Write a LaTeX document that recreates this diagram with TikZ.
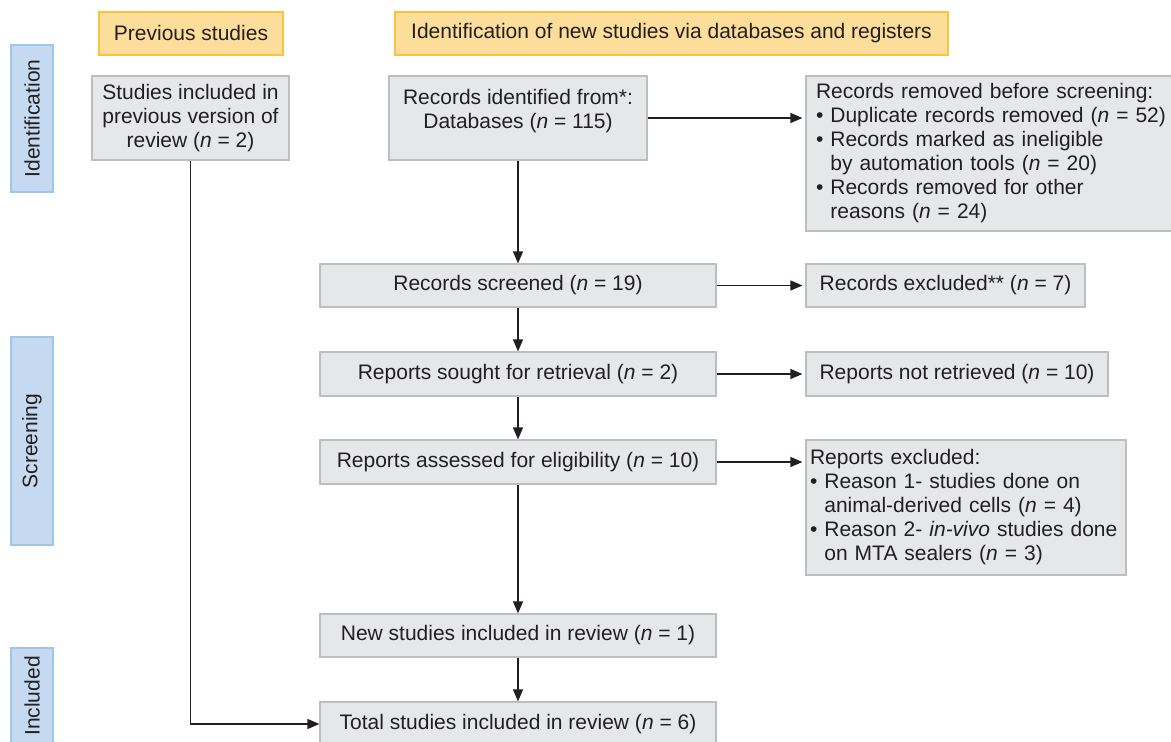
\documentclass[tikz,border=0pt]{standalone}
\usepackage{fontspec}
\setmainfont{Liberation Sans}
\usepackage{tikz}
\usetikzlibrary{positioning, arrows.meta}

\definecolor{boxfill}{RGB}{230,231,232}
\definecolor{boxline}{RGB}{188,190,192}
\definecolor{hdrfill}{RGB}{253,221,154}
\definecolor{hdrline}{RGB}{249,195,66}
\definecolor{phasefill}{RGB}{197,218,240}
\definecolor{phaseline}{RGB}{160,199,234}
\definecolor{inkgray}{RGB}{35,31,32}

\newcommand{\ncnt}[1]{(\textit{n} = #1)}
\newcommand{\bul}{\textbullet\ }
\newcommand{\hang}{\hphantom{\textbullet\ }}

\begin{document}
\begin{tikzpicture}[
    x=0.5pt, y=-0.5pt,
    every node/.style={font=\fontsize{10.5}{12}\selectfont, text=inkgray, inner sep=0pt},
    >={Triangle[length=6pt,width=5pt]},
    box/.style={draw=boxline, fill=boxfill, line width=0.6pt, align=center},
    sidebox/.style={draw=boxline, fill=boxfill, line width=0.6pt, align=left},
    header/.style={draw=hdrline, fill=hdrfill, line width=0.6pt, minimum height=21.5pt},
    phase/.style={draw=phaseline, fill=phasefill, line width=0.6pt, minimum height=21pt, rotate=90},
    link/.style={draw=inkgray, line width=0.65pt}
]
    \useasboundingbox (0,0) rectangle (1171,742);

    \node[header, minimum width=92pt] (prevhdr) at (191,33.5) {Previous studies};
    \node[header, minimum width=276.5pt] (newhdr) at (671.5,33.5)
        {Identification of new studies via databases and registers};

    \node[phase, minimum width=73.5pt] (identph) at (32,118.5) {Identification};
    \node[phase, minimum width=104pt] (screenph) at (32,441) {Screening};
    \node[phase, minimum width=48pt] (inclph) at (32,696) {Included};

    \node[box, minimum width=98.5pt, minimum height=42pt] (prev) at (190.5,118)
        {Studies included in\\previous version of\\review \ncnt{2}};
    \node[box, minimum width=129pt, minimum height=42pt] (ident) at (518,118)
        {Records identified from*:\\Databases \ncnt{115}\\[-3pt]\mbox{}};
    \node[sidebox, inner xsep=5pt, text width=180pt, minimum height=77.5pt] (removed) at (996,153.5)
        {Records removed before screening:\\
         \bul Duplicate records removed \ncnt{52}\\
         \bul Records marked as ineligible\\
         \hang by automation tools \ncnt{20}\\
         \bul Records removed for other\\
         \hang reasons \ncnt{24}};

    \node[box, minimum width=198pt, minimum height=21.5pt] (screened) at (518,285.5)
        {Records screened \ncnt{19}};
    \node[box, minimum width=139.5pt, minimum height=21.5pt] (excl) at (945.5,285.5)
        {Records excluded** \ncnt{7}};

    \node[box, minimum width=198pt, minimum height=22pt] (sought) at (518,374)
        {Reports sought for retrieval \ncnt{2}};
    \node[box, minimum width=151pt, minimum height=22pt] (notretr) at (957,374)
        {Reports not retrieved \ncnt{10}};

    \node[box, minimum width=198pt, minimum height=22pt] (assessed) at (518,462)
        {Reports assessed for eligibility \ncnt{10}};
    \node[sidebox, inner xsep=2pt, text width=156pt, minimum height=67.5pt] (repexcl) at (966,507.5)
        {Reports excluded:\\
         \bul Reason 1- studies done on\\
         \hang animal-derived cells \ncnt{4}\\
         \bul Reason 2- \textit{in-vivo} studies done\\
         \hang on MTA sealers \ncnt{3}};

    \node[box, minimum width=198pt, minimum height=21.5pt] (newinc) at (518,635.5)
        {New studies included in review \ncnt{1}};
    \node[box, minimum width=198pt, minimum height=22pt] (total) at (518,724)
        {Total studies included in review \ncnt{6}};

    \draw[->, link] (ident) -- (screened);
    \draw[->, link] (screened) -- (sought);
    \draw[->, link] (sought) -- (assessed);
    \draw[->, link] (assessed) -- (newinc);
    \draw[->, link] (newinc) -- (total);

    \draw[->, link, shorten >=1.5pt] (ident.east) -- (ident.east -| removed.west);
    \draw[->, link, shorten >=1.5pt] (screened) -- (excl);
    \draw[->, link, shorten >=1.5pt] (sought) -- (notretr);
    \draw[->, link, shorten >=1.5pt] (assessed.east) -- (assessed.east -| repexcl.west);

    \draw[->, link] (prev) |- (total);
\end{tikzpicture}
\end{document}
